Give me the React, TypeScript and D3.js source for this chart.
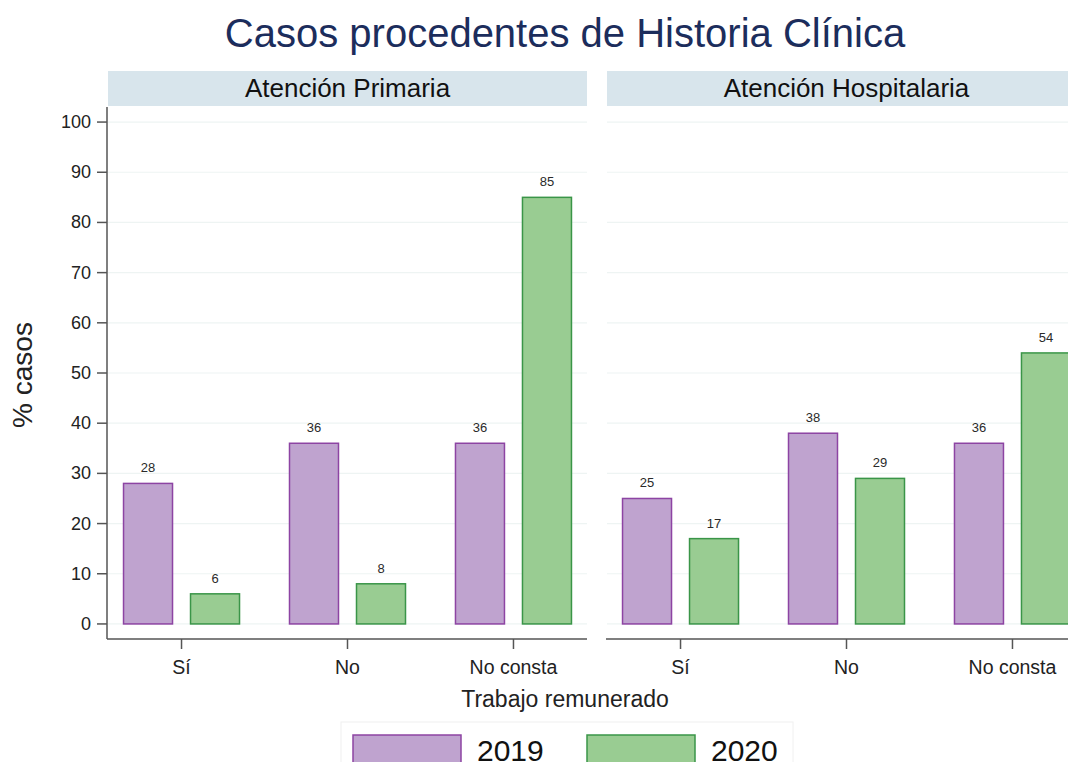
import React from "react";
import * as d3 from "d3";

const panels = ["Atención Primaria", "Atención Hospitalaria"];
const categories = ["Sí", "No", "No consta"];
const years = ["2019", "2020"];
const primaria2019 = [28, 36, 36];
const primaria2020 = [6, 8, 85];
const hospital2019 = [25, 38, 36];
const hospital2020 = [17, 29, 54];
const yTicks = [0, 10, 20, 30, 40, 50, 60, 70, 80, 90, 100];

const panelValues = [
  [primaria2019, primaria2020],
  [hospital2019, hospital2020],
];

const fills = ["#bfa3cf", "#99cc92"];
const strokes = ["#8d44a3", "#3a9548"];
const FONT = "'Liberation Sans', Arial, Helvetica, sans-serif";

export default function App() {
  const W = 1068;
  const H = 762;
  const panelLefts = [108, 607];
  const panelW = 479;
  const stripTop = 71;
  const stripH = 35;
  const plotTop = 106;
  const plotBottom = 639;

  const y = d3.scaleLinear().domain([-3, 103.2]).range([plotBottom, plotTop]);
  const x = d3.scalePoint().domain(categories).range([0, panelW]).padding(0.443);
  const xs = d3.scaleBand().domain(years).range([-58, 58]).paddingInner(0.2687).paddingOuter(0);

  return (
    <svg
      width={W}
      height={H}
      style={{ position: "absolute", left: 0, top: 0, background: "#fff" }}
      fontFamily={FONT}
    >
      <rect x={0} y={0} width={W} height={H} fill="#fff" />
      <text x={565} y={47} textAnchor="middle" fontSize={40} fill="#1c2d5c">
        Casos procedentes de Historia Clínica
      </text>

      {panels.map((p, pi) => {
        const left = panelLefts[pi];
        const vals = panelValues[pi];
        return (
          <g key={p} transform={`translate(${left},0)`}>
            <rect x={0} y={stripTop} width={panelW} height={stripH} fill="#d8e5ec" />
            <text x={panelW / 2} y={stripTop + 26} textAnchor="middle" fontSize={26} fill="#111">
              {p}
            </text>
            {yTicks.map((t) => (
              <line key={t} x1={0} x2={panelW} y1={y(t)} y2={y(t)} stroke="#eef4f3" strokeWidth={1.2} />
            ))}
            {categories.map((c, ci) => {
              const cx = x(c) as number;
              return (
                <g key={c}>
                  {years.map((yr, si) => {
                    const v = vals[si][ci];
                    const bx = cx + (xs(yr) as number);
                    return (
                      <g key={yr}>
                        <rect
                          x={bx}
                          y={y(v)}
                          width={xs.bandwidth()}
                          height={y(0) - y(v)}
                          fill={fills[si]}
                          stroke={strokes[si]}
                          strokeWidth={1.5}
                        />
                        <text
                          x={bx + xs.bandwidth() / 2}
                          y={y(v) - 11}
                          textAnchor="middle"
                          fontSize={13}
                          fill="#2a2a2a"
                        >
                          {v}
                        </text>
                      </g>
                    );
                  })}
                  <line x1={cx} x2={cx} y1={plotBottom} y2={plotBottom + 10} stroke="#555" strokeWidth={1.5} />
                  <text x={cx} y={plotBottom + 35} textAnchor="middle" fontSize={19.5} fill="#222">
                    {c}
                  </text>
                </g>
              );
            })}
            <line x1={-1} x2={panelW} y1={plotBottom} y2={plotBottom} stroke="#555" strokeWidth={1.5} />
          </g>
        );
      })}

      <g transform={`translate(${panelLefts[0]},0)`}>
        <line x1={-1} x2={-1} y1={plotTop + 1} y2={plotBottom} stroke="#555" strokeWidth={1.5} />
        {yTicks.map((t) => (
          <g key={t}>
            <line x1={-11} x2={-1} y1={y(t)} y2={y(t)} stroke="#555" strokeWidth={1.5} />
            <text x={-17} y={y(t) + 6} textAnchor="end" fontSize={18} fill="#222">
              {t}
            </text>
          </g>
        ))}
      </g>

      <text
        transform={`translate(32,375) rotate(-90)`}
        textAnchor="middle"
        fontSize={28}
        fill="#222"
      >
        % casos
      </text>
      <text x={565} y={707} textAnchor="middle" fontSize={23} fill="#222">
        Trabajo remunerado
      </text>

      <rect x={341} y={722} width={452} height={60} fill="#fff" stroke="#f0f0f0" />
      {years.map((yr, i) => (
        <g key={yr} transform={`translate(${353 + i * 234},0)`}>
          <rect x={0} y={735} width={108} height={40} fill={fills[i]} stroke={strokes[i]} strokeWidth={1.5} />
          <text x={124} y={761} fontSize={30} fill="#111">
            {yr}
          </text>
        </g>
      ))}
    </svg>
  );
}
